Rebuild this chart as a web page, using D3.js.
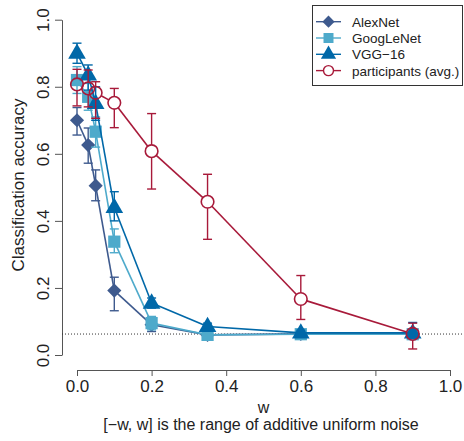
<!DOCTYPE html>
<html><head><meta charset="utf-8">
<script src="https://cdn.jsdelivr.net/npm/d3@7/dist/d3.min.js"></script>
<style>body{margin:0;background:#fff}svg{display:block}text{font-family:"Liberation Sans",Arial,sans-serif}</style>
</head><body>
<svg id="c" width="464" height="441"></svg>
<script>
const noise = [0, 0.03, 0.05, 0.1, 0.2, 0.35, 0.6, 0.9];
const seriesNames = ["AlexNet", "GoogLeNet", "VGG\u221216", "participants (avg.)"];
const alexnet      = [0.70, 0.626, 0.505, 0.192, 0.09, 0.06, 0.063, 0.063];
const alexnetLo    = [0.656, 0.572, 0.46, 0.132, 0.07, 0.055, 0.058, 0.058];
const alexnetHi    = [0.738, 0.677, 0.552, 0.232, 0.11, 0.066, 0.068, 0.068];
const googlenet    = [0.82, 0.77, 0.666, 0.338, 0.095, 0.06, 0.062, 0.062];
const googlenetLo  = [0.78, 0.73, 0.62, 0.305, 0.075, 0.052, 0.056, 0.056];
const googlenetHi  = [0.86, 0.81, 0.71, 0.376, 0.115, 0.068, 0.068, 0.068];
const vgg16        = [0.90, 0.835, 0.75, 0.44, 0.155, 0.085, 0.066, 0.066];
const vgg16Lo      = [0.87, 0.79, 0.70, 0.40, 0.14, 0.075, 0.058, 0.05];
const vgg16Hi      = [0.93, 0.865, 0.80, 0.487, 0.17, 0.095, 0.074, 0.097];
const human        = [0.807, 0.795, 0.782, 0.752, 0.608, 0.457, 0.167, 0.063];
const humanLo      = [0.743, 0.74, 0.706, 0.678, 0.495, 0.345, 0.106, 0.018];
const humanHi      = [0.852, 0.85, 0.815, 0.795, 0.72, 0.539, 0.237, 0.095];
const chance = 1/16;
const xTicks = [0, 0.2, 0.4, 0.6, 0.8, 1.0];
const yTicks = [0, 0.2, 0.4, 0.6, 0.8, 1.0];

const colors = ["#3e5a8e", "#4eaacb", "#0068a8", "#a81a3a"];
const svg = d3.select("#c");
const x = d3.scaleLinear().domain([0, 1]).range([77, 450]);
const y = d3.scaleLinear().domain([0, 1]).range([355, 19.7]);
const axisCol = "#555", textCol = "#222";

// axes
const xAxis = d3.axisBottom(x).tickValues(xTicks).tickFormat(d3.format(".1f")).tickSize(6).tickSizeOuter(0).tickPadding(4);
const gx = svg.append("g").attr("transform", "translate(0,370)").call(xAxis);
gx.select(".domain").attr("stroke", axisCol);
gx.selectAll(".tick line").attr("stroke", axisCol);
gx.selectAll(".tick text").attr("font-size", 17).attr("fill", textCol).attr("font-family", "Liberation Sans, Arial, sans-serif");

const yAxis = d3.axisLeft(y).tickValues(yTicks).tickFormat(d3.format(".1f")).tickSize(7).tickSizeOuter(0);
const gy = svg.append("g").attr("transform", "translate(62,0)").call(yAxis);
gy.select(".domain").attr("stroke", axisCol);
gy.selectAll(".tick line").attr("stroke", axisCol);
gy.selectAll(".tick text").attr("font-size", 17).attr("fill", textCol)
  .attr("font-family", "Liberation Sans, Arial, sans-serif")
  .attr("x", null).attr("dy", null)
  .attr("transform", "translate(-13,0) rotate(-90)").attr("text-anchor", "middle");

// labels
svg.append("text").attr("transform", "translate(24,185) rotate(-90)").attr("text-anchor", "middle")
  .attr("font-size", 17).attr("fill", textCol).text("Classification accuracy");
svg.append("text").attr("x", 263.5).attr("y", 413).attr("text-anchor", "middle")
  .attr("font-size", 16).attr("fill", textCol).text("w");
svg.append("text").attr("x", 261).attr("y", 429.5).attr("text-anchor", "middle")
  .attr("font-size", 16).attr("fill", textCol).text("[\u2212w, w] is the range of additive uniform noise");

// chance line
svg.append("line").attr("x1", 62).attr("x2", 465).attr("y1", y(chance)).attr("y2", y(chance))
  .attr("stroke", "#333").attr("stroke-width", 1).attr("stroke-dasharray", "1,2");

const shapes = [
  d3.symbol().type(d3.symbolSquare).size(100),
  d3.symbol().type(d3.symbolSquare).size(150),
  d3.symbol().type(d3.symbolTriangle).size(135),
  null
];
const rot = [45, 0, 0, 0];
const data = [
  [alexnet, alexnetLo, alexnetHi],
  [googlenet, googlenetLo, googlenetHi],
  [vgg16, vgg16Lo, vgg16Hi],
  [human, humanLo, humanHi]
];
const R = 6.3, cap = 4.5;

data.forEach(([v, lo, hi], s) => {
  const g = svg.append("g");
  const col = colors[s];
  const pts = noise.map((n, i) => [x(n), y(v[i])]);
  // connecting lines
  for (let i = 0; i < pts.length - 1; i++) {
    let [x1, y1] = pts[i], [x2, y2] = pts[i + 1];
    if (s === 3) {
      const dx = x2 - x1, dy = y2 - y1, L = Math.hypot(dx, dy);
      if (L <= 2 * R) continue;
      const ux = dx / L, uy = dy / L;
      x1 += ux * R; y1 += uy * R; x2 -= ux * R; y2 -= uy * R;
    }
    g.append("line").attr("x1", x1).attr("y1", y1).attr("x2", x2).attr("y2", y2)
      .attr("stroke", col).attr("stroke-width", 1.6);
  }
  // error bars
  noise.forEach((n, i) => {
    const cx = x(n), yl = y(lo[i]), yh = y(hi[i]), cy = y(v[i]);
    if (s === 3) {
      if (cy - R > yh) g.append("line").attr("x1", cx).attr("x2", cx).attr("y1", yh).attr("y2", cy - R).attr("stroke", col).attr("stroke-width", 1.4);
      if (cy + R < yl) g.append("line").attr("x1", cx).attr("x2", cx).attr("y1", cy + R).attr("y2", yl).attr("stroke", col).attr("stroke-width", 1.4);
    } else {
      g.append("line").attr("x1", cx).attr("x2", cx).attr("y1", yh).attr("y2", yl).attr("stroke", col).attr("stroke-width", 1.4);
    }
    [yl, yh].forEach(yy => g.append("line").attr("x1", cx - cap).attr("x2", cx + cap).attr("y1", yy).attr("y2", yy)
      .attr("stroke", col).attr("stroke-width", 1.4));
  });
  // markers
  pts.forEach(([px, py]) => {
    if (s === 3) {
      g.append("circle").attr("cx", px).attr("cy", py).attr("r", R).attr("fill", "none")
        .attr("stroke", col).attr("stroke-width", 1.6);
    } else {
      g.append("path").attr("d", shapes[s]()).attr("fill", col)
        .attr("transform", `translate(${px},${py + (s === 2 ? 0.5 : 0)}) rotate(${rot[s]})`);
    }
  });
});

// legend
const lg = svg.append("g");
lg.append("rect").attr("x", 312.5).attr("y", 5.5).attr("width", 150).attr("height", 80)
  .attr("fill", "#fff").attr("stroke", "#333").attr("stroke-width", 1);
const legShapes = [
  d3.symbol().type(d3.symbolSquare).size(75),
  d3.symbol().type(d3.symbolSquare).size(100),
  d3.symbol().type(d3.symbolTriangle).size(100),
  null
];
seriesNames.forEach((name, s) => {
  const ly = 21.7 + s * 16.3, col = colors[s];
  lg.append("line").attr("x1", 316).attr("x2", 341).attr("y1", ly).attr("y2", ly).attr("stroke", col).attr("stroke-width", 1.4);
  if (s === 3) {
    lg.append("circle").attr("cx", 328.5).attr("cy", ly).attr("r", 5).attr("fill", "#fff").attr("stroke", col).attr("stroke-width", 1.4);
  } else {
    lg.append("path").attr("d", legShapes[s]()).attr("fill", col)
      .attr("transform", `translate(328.5,${ly}) rotate(${rot[s]})`);
  }
  lg.append("text").attr("x", 352).attr("y", ly + 5).attr("font-size", 13.5).attr("fill", textCol).text(name);
});
</script>
</body></html>
